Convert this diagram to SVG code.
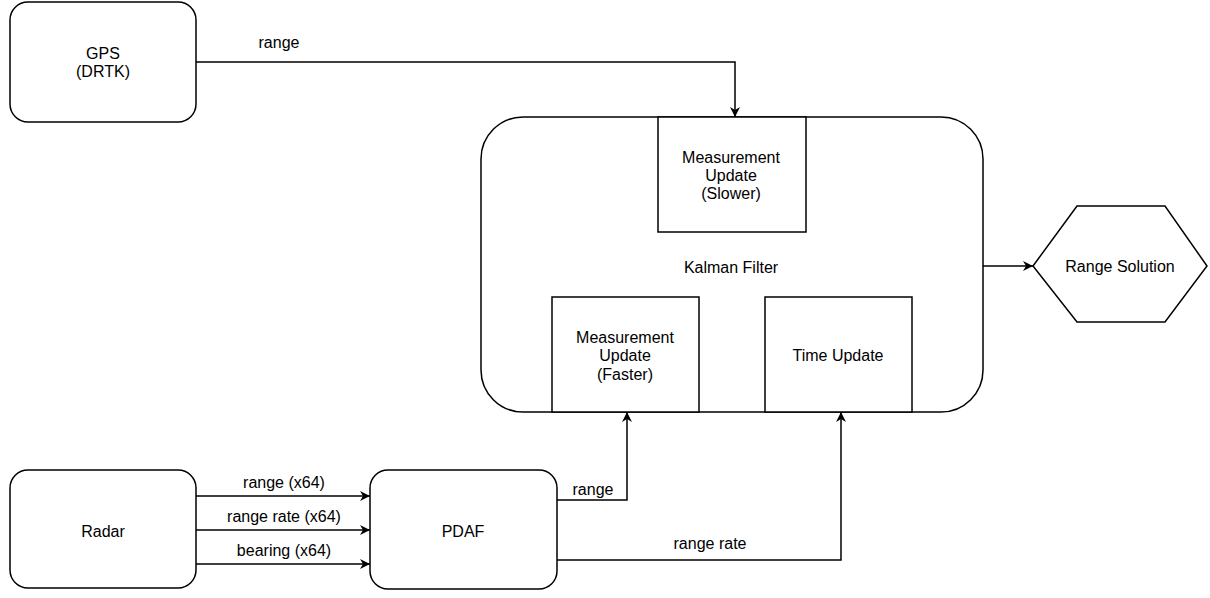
<svg xmlns="http://www.w3.org/2000/svg" width="1210" height="598" viewBox="0 0 1210 598">
<style>
.box{fill:#fff;stroke:#000;stroke-width:1.5}
.ln{fill:none;stroke:#000;stroke-width:1.5}
text{font-family:"Liberation Sans",Arial,sans-serif;font-size:16px;fill:#000;text-anchor:middle;dominant-baseline:central}
</style>
<defs>
<marker id="ar" markerWidth="12" markerHeight="10" refX="10" refY="5" orient="auto" markerUnits="userSpaceOnUse">
<path d="M0,0 L10,5 L0,10 L3,5 Z" fill="#000"/>
</marker>
</defs>
<g id="gps"><rect class="box" x="10" y="2" width="186" height="120" rx="18"/><text x="103" y="53">GPS</text><text x="103" y="71">(DRTK)</text></g>
<g id="kalman"><rect class="box" x="481" y="117" width="502" height="295" rx="42"/><text x="731" y="267">Kalman Filter</text></g>
<g id="mu-slower"><rect class="box" x="658" y="117" width="148" height="115"/><text x="731" y="157">Measurement</text><text x="731" y="175">Update</text><text x="731" y="193">(Slower)</text></g>
<g id="mu-faster"><rect class="box" x="552" y="297" width="147" height="115"/><text x="625" y="337">Measurement</text><text x="625" y="355">Update</text><text x="625" y="374">(Faster)</text></g>
<g id="time-update"><rect class="box" x="765" y="297" width="147" height="115"/><text x="838" y="355">Time Update</text></g>
<g id="range-solution"><polygon class="box" points="1033,266 1077,206 1165,206 1207,266 1165,322 1077,322"/><text x="1120" y="266">Range Solution</text></g>
<g id="radar"><rect class="box" x="10" y="470" width="186" height="118" rx="18"/><text x="103" y="531">Radar</text></g>
<g id="pdaf"><rect class="box" x="370" y="470" width="187" height="119" rx="18"/><text x="463" y="531">PDAF</text></g>
<g id="connectors">
<path class="ln" d="M196,62 H735 V117" marker-end="url(#ar)"/>
<text x="279" y="42">range</text>
<path class="ln" d="M983,266 H1033" marker-end="url(#ar)"/>
<path class="ln" d="M196,496 H370" marker-end="url(#ar)"/>
<text x="284" y="482">range (x64)</text>
<path class="ln" d="M196,530 H370" marker-end="url(#ar)"/>
<text x="284" y="516">range rate (x64)</text>
<path class="ln" d="M196,564 H370" marker-end="url(#ar)"/>
<text x="284" y="550">bearing (x64)</text>
<path class="ln" d="M557,500 H627 V412" marker-end="url(#ar)"/>
<text x="593" y="489">range</text>
<path class="ln" d="M557,560 H841 V412" marker-end="url(#ar)"/>
<text x="710" y="543">range rate</text>
</g>
</svg>
